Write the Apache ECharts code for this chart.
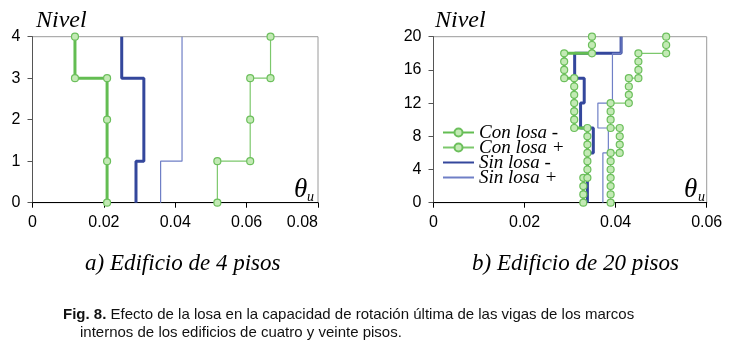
<!DOCTYPE html>
<html>
<head>
<meta charset="utf-8">
<script src="https://cdn.jsdelivr.net/npm/echarts@6/dist/echarts.min.js"></script>
<style>
  html, body { margin: 0; padding: 0; background: #fff; }
  #chart { width: 731px; height: 346px; }
</style>
</head>
<body>
<div id="chart"></div>
<script>
// [theta_u, nivel] for the 4-storey building
const izqConMenos = [[0.0209, 0], [0.0209, 1], [0.0209, 2], [0.0209, 3], [0.0119, 3], [0.0119, 4]];
const izqConMas = [[0.0518, 0], [0.0518, 1], [0.0610, 1], [0.0610, 2], [0.0610, 3], [0.0667, 3], [0.0667, 4]];
const izqSinMenos = [[0.0290, 0], [0.0290, 1], [0.0312, 1], [0.0312, 3], [0.0250, 3], [0.0250, 4]];
const izqSinMas = [[0.0359, 0], [0.0359, 1], [0.0419, 1], [0.0419, 4]];

// [theta_u, nivel] for the 20-storey building
const derConMenos = [
  [0.0329, 0], [0.0329, 1], [0.0329, 2], [0.0329, 3],
  [0.0338, 3], [0.0338, 4], [0.0338, 5], [0.0338, 6], [0.0338, 7], [0.0338, 8], [0.0338, 9],
  [0.0309, 9], [0.0309, 10], [0.0309, 11], [0.0309, 12], [0.0309, 13], [0.0309, 14], [0.0309, 15],
  [0.0287, 15], [0.0287, 16], [0.0287, 17], [0.0287, 18],
  [0.0348, 18], [0.0348, 19], [0.0348, 20]
];
const derConMas = [
  [0.0389, 0], [0.0389, 1], [0.0389, 2], [0.0389, 3], [0.0389, 4], [0.0389, 5], [0.0389, 6],
  [0.0409, 6], [0.0409, 7], [0.0409, 8], [0.0409, 9],
  [0.0389, 9], [0.0389, 10], [0.0389, 11], [0.0389, 12],
  [0.0429, 12], [0.0429, 13], [0.0429, 14], [0.0429, 15],
  [0.0450, 15], [0.0450, 16], [0.0450, 17], [0.0450, 18],
  [0.0511, 18], [0.0511, 19], [0.0511, 20]
];
const derSinMenos = [
  [0.0338, 0], [0.0338, 6], [0.0351, 6], [0.0351, 9], [0.0323, 9], [0.0323, 12],
  [0.0331, 12], [0.0331, 15], [0.0310, 15], [0.0310, 18], [0.0412, 18], [0.0412, 20]
];
const derSinMas = [
  [0.0372, 0], [0.0372, 6], [0.0384, 6], [0.0384, 9], [0.0361, 9], [0.0361, 12],
  [0.0393, 12], [0.0393, 18], [0.0412, 18], [0.0412, 20]
];

const xMaxIzq = 0.08;
const xMaxDer = 0.06;
const xStep = 0.02;
const nivelesIzq = { max: 4, step: 1 };
const nivelesDer = { max: 20, step: 4 };

const nombres = ['Con losa -', 'Con losa +', 'Sin losa -', 'Sin losa +'];
const verde = '#63bd52';
const verdeClaro = '#7cc86c';
const azul = '#34479c';
const azulClaro = '#6f7fc6';

const serif = 'Liberation Serif';
const sans = 'Liberation Sans';

const chart = echarts.init(document.getElementById('chart'));

function xAxis(idx, max, alinear) {
  return {
    gridIndex: idx,
    type: 'value',
    min: 0,
    max: max,
    interval: xStep,
    axisLine: { lineStyle: { color: '#000', width: 1 } },
    axisTick: { show: true, length: 5, lineStyle: { color: '#000' } },
    splitLine: { show: false },
    axisLabel: {
      margin: 12,
      color: '#000',
      fontFamily: sans,
      fontSize: 16,
      alignMaxLabel: alinear ? 'right' : undefined,
      formatter: (v) => (v === 0 ? '0' : v.toFixed(2)),
    },
  };
}

function yAxis(idx, niv) {
  return {
    gridIndex: idx,
    type: 'value',
    min: 0,
    max: niv.max,
    interval: niv.step,
    axisLine: { show: true, lineStyle: { color: '#555', width: 1 } },
    axisTick: { show: true, length: 5, lineStyle: { color: '#555' } },
    splitLine: { show: false },
    axisLabel: { margin: 12, color: '#000', fontFamily: sans, fontSize: 16 },
  };
}

function serie(name, idx, data, tipo) {
  const conMarcas = tipo === 'con';
  const grueso = name.indexOf('-') > 0;
  const c = conMarcas ? (grueso ? verde : verdeClaro) : (grueso ? azul : azulClaro);
  return {
    name: name,
    type: 'line',
    xAxisIndex: idx,
    yAxisIndex: idx,
    data: data,
    z: conMarcas ? 4 : 3,
    animation: false,
    color: c,
    lineStyle: { width: grueso ? 3 : 1.2, color: c },
    showSymbol: conMarcas,
    symbol: conMarcas ? 'circle' : 'none',
    symbolSize: 7,
    itemStyle: conMarcas
      ? { color: '#c3eab5', borderColor: '#6cbf5c', borderWidth: 1.2 }
      : undefined,
  };
}

const option = {
  backgroundColor: '#fff',
  grid: [
    { left: 32.5, top: 36.7, width: 285.5, height: 166, show: true, borderColor: '#9a9a9a', borderWidth: 1 },
    { left: 433.5, top: 36.7, width: 273.2, height: 166, show: true, borderColor: '#9a9a9a', borderWidth: 1 },
  ],
  xAxis: [xAxis(0, xMaxIzq, true), xAxis(1, xMaxDer, false)],
  yAxis: [yAxis(0, nivelesIzq), yAxis(1, nivelesDer)],
  legend: {
    orient: 'vertical',
    left: 437,
    top: 118,
    itemWidth: 31,
    itemHeight: 10,
    itemGap: -4,
    data: [
      { name: nombres[0] },
      { name: nombres[1] },
      { name: nombres[2], itemStyle: { opacity: 0 } },
      { name: nombres[3], itemStyle: { opacity: 0 } },
    ],
    textStyle: { fontFamily: serif, fontStyle: 'italic', fontSize: 19, color: '#000' },
  },
  series: [
    serie(nombres[2], 0, izqSinMenos, 'sin'),
    serie(nombres[3], 0, izqSinMas, 'sin'),
    serie(nombres[0], 0, izqConMenos, 'con'),
    serie(nombres[1], 0, izqConMas, 'con'),
    serie(nombres[2], 1, derSinMenos, 'sin'),
    serie(nombres[3], 1, derSinMas, 'sin'),
    serie(nombres[0], 1, derConMenos, 'con'),
    serie(nombres[1], 1, derConMas, 'con'),
  ],
  graphic: [
    { type: 'text', left: 36, top: 9, style: { text: 'Nivel', font: 'italic 24px "Liberation Serif"', fill: '#000' } },
    { type: 'text', left: 435, top: 9, style: { text: 'Nivel', font: 'italic 24px "Liberation Serif"', fill: '#000' } },
    { type: 'text', left: 294, top: 176, style: { text: 'θ', font: 'italic 27px "Liberation Serif"', fill: '#000' } },
    { type: 'text', left: 307, top: 190, style: { text: 'u', font: 'italic 14px "Liberation Serif"', fill: '#000' } },
    { type: 'text', left: 684, top: 176, style: { text: 'θ', font: 'italic 27px "Liberation Serif"', fill: '#000' } },
    { type: 'text', left: 698, top: 190, style: { text: 'u', font: 'italic 14px "Liberation Serif"', fill: '#000' } },
    { type: 'text', left: 85, top: 252, style: { text: 'a) Edificio de 4 pisos', font: 'italic 23px "Liberation Serif"', fill: '#000' } },
    { type: 'text', left: 472, top: 252, style: { text: 'b) Edificio de 20 pisos', font: 'italic 23px "Liberation Serif"', fill: '#000' } },
    {
      type: 'text', left: 63, top: 307,
      style: {
        text: '{b|Fig. 8.} Efecto de la losa en la capacidad de rotación última de las vigas de los marcos',
        font: '15px "Liberation Sans"',
        fill: '#111',
        rich: { b: { font: 'bold 15px "Liberation Sans"', fill: '#111' } },
      },
    },
    {
      type: 'text', left: 80, top: 325,
      style: { text: 'internos de los edificios de cuatro y veinte pisos.', font: '15px "Liberation Sans"', fill: '#111' },
    },
  ],
};

chart.setOption(option);
</script>
</body>
</html>
